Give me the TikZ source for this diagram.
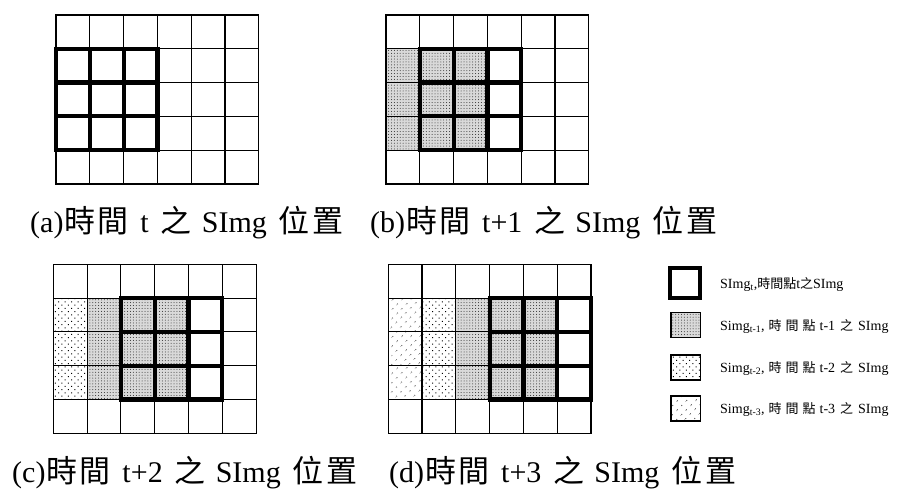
\documentclass[tikz,border=0pt]{standalone}
\usepackage{fontspec}
\setmainfont{Liberation Serif}
\newfontfamily\cjk{Noto Sans CJK TC}
\usetikzlibrary{patterns.meta}
\newcommand\cs{33.8}
\newcommand\ccj[1]{{\cjk\fontsize{31}{36}\selectfont #1}}
\newcommand\lcj[1]{{\cjk\fontsize{13}{15}\selectfont #1}}
\tikzset{
  thingrid/.style={line width=1.1pt, line cap=rect},
  thickgrid/.style={line width=4.2pt, line cap=rect},
  pA/.style={preaction={fill=black!15}, pattern={Dots[radius=0.5pt,distance=2.9pt]}, pattern color=black!85},
  pB/.style={pattern={Dots[radius=0.7pt,distance=4.6pt,angle=45]}, pattern color=black},
  pC/.style={pattern={Dots[radius=0.7pt,distance=6.5pt,angle=45]}, pattern color=black},
  captxt/.style={anchor=base west, inner sep=0pt, font=\fontsize{30}{36}\selectfont},
  legtxt/.style={anchor=base west, inner sep=0pt, font=\fontsize{14}{16}\selectfont},
}
% #1 x0, #2 y0
\newcommand\mygrid[2]{%
  \foreach \i in {0,...,6} \draw[thingrid] ({#1+\i*\cs},#2) -- ({#1+\i*\cs},{#2+5*\cs});
  \foreach \j in {0,...,5} \draw[thingrid] (#1,{#2+\j*\cs}) -- ({#1+6*\cs},{#2+\j*\cs});
}
% #1 x0, #2 y0, #3 first col, #4 last col, #5 style
\newcommand\mycells[5]{%
  \foreach \c in {#3,...,#4} \foreach \r in {1,2,3}
    \path[#5] ({#1+\c*\cs},{#2+\r*\cs}) rectangle ({#1+(\c+1)*\cs},{#2+(\r+1)*\cs});
}
% #1 x0, #2 y0, #3 first col of 3x3 block
\newcommand\myblock[3]{%
  \foreach \i in {0,...,3} \draw[thickgrid] ({#1+(#3+\i)*\cs},{#2+\cs}) -- ({#1+(#3+\i)*\cs},{#2+4*\cs});
  \foreach \j in {1,...,4} \draw[thickgrid] ({#1+#3*\cs},{#2+\j*\cs}) -- ({#1+(#3+3)*\cs},{#2+\j*\cs});
}
\begin{document}
\begin{tikzpicture}[x=1pt,y=-1pt]
\useasboundingbox[fill=white] (0,0) rectangle (899,497);
% (a)
\mygrid{56}{15}
\myblock{56}{15}{0}
% (b)
\mycells{386}{15}{0}{2}{pA}
\mygrid{386}{15}
\myblock{386}{15}{1}
% (c)
\mycells{53.3}{264.3}{0}{0}{pB}
\mycells{53.3}{264.3}{1}{3}{pA}
\mygrid{53.3}{264.3}
\myblock{53.3}{264.3}{2}
% (d)
\mycells{388.2}{264.3}{0}{0}{pC}
\mycells{388.2}{264.3}{1}{1}{pB}
\mycells{388.2}{264.3}{2}{4}{pA}
\mygrid{388.2}{264.3}
\myblock{388.2}{264.3}{3}
% captions
\node[captxt] (capa) at (30,232) {(a)\kern1pt\ccj{時\kern2pt 間}\hspace{12pt}t\hspace{12pt}\ccj{之}\hspace{10pt}SImg\hspace{12pt}\ccj{位\kern3pt 置}};
\node[captxt] (capb) at (370,232) {(b)\kern1pt\ccj{時\kern2pt 間}\hspace{12pt}t+1\hspace{12pt}\ccj{之}\hspace{10pt}SImg\hspace{12pt}\ccj{位\kern3pt 置}};
\node[captxt] (capc) at (12,482) {(c)\kern1pt\ccj{時\kern2pt 間}\hspace{12pt}t+2\hspace{12pt}\ccj{之}\hspace{10pt}SImg\hspace{12pt}\ccj{位\kern3pt 置}};
\node[captxt] (capd) at (389,482) {(d)\kern1pt\ccj{時\kern2pt 間}\hspace{12pt}t+3\hspace{12pt}\ccj{之}\hspace{10pt}SImg\hspace{12pt}\ccj{位\kern3pt 置}};
% legend
\draw[line width=4pt] (670,268) rectangle (700,297.5);
\draw[thingrid, pA] (671,312.5) rectangle (700.5,337.5);
\draw[thingrid, pB] (671,355) rectangle (700.5,380);
\draw[thingrid, pC] (671,396) rectangle (700.5,421);
\node[legtxt] (leg1) at (720,288) {SImg\textsubscript{t},\lcj{時間點}t\lcj{之}SImg};
\node[legtxt] (leg2) at (720,330) {Simg\textsubscript{t-1},\kern4pt\lcj{時\kern4pt 間\kern4pt 點}\kern4pt t-1\kern5pt\lcj{之}\kern5pt SImg};
\node[legtxt] (leg3) at (720,372) {Simg\textsubscript{t-2},\kern4pt\lcj{時\kern4pt 間\kern4pt 點}\kern4pt t-2\kern5pt\lcj{之}\kern5pt SImg};
\node[legtxt] (leg4) at (720,413) {Simg\textsubscript{t-3},\kern4pt\lcj{時\kern4pt 間\kern4pt 點}\kern4pt t-3\kern5pt\lcj{之}\kern5pt SImg};
\end{tikzpicture}
\end{document}
